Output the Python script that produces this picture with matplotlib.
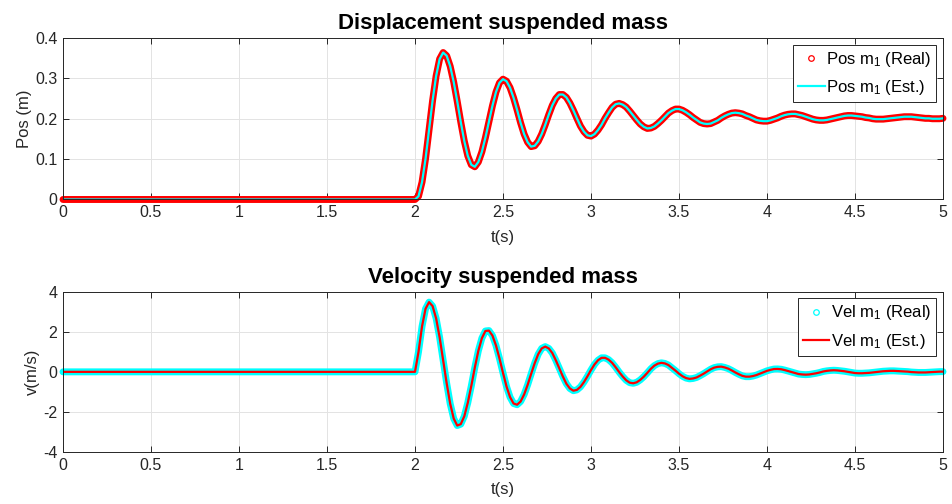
import numpy as np
import matplotlib
matplotlib.use("Agg")
import matplotlib.pyplot as plt
from matplotlib.lines import Line2D

plt.rcParams['font.family'] = ['Liberation Sans', 'DejaVu Sans']
plt.rcParams['mathtext.fontset'] = 'custom'
plt.rcParams['mathtext.rm'] = 'Liberation Sans'
plt.rcParams['mathtext.it'] = 'Liberation Sans:italic'
plt.rcParams['axes.unicode_minus'] = False

# time grid (s), 0.02 s step; the mass is at rest until ~2 s
t = np.round(np.arange(0, 5.0001, 0.02), 2)
n_rest = 100

# displacement of suspended mass (m), read from 2.00 s to 5.00 s
pos_step = [
    0.000, 0.008, 0.043, 0.101, 0.172, 0.245, 0.306, 0.348, 0.364, 0.356,
    0.330, 0.291, 0.243, 0.192, 0.145, 0.108, 0.086, 0.081, 0.093, 0.118,
    0.153, 0.193, 0.232, 0.266, 0.289, 0.298, 0.293, 0.277, 0.252, 0.222,
    0.190, 0.162, 0.142, 0.131, 0.133, 0.144, 0.162, 0.185, 0.210, 0.233,
    0.250, 0.260, 0.260, 0.253, 0.239, 0.221, 0.201, 0.182, 0.168, 0.159,
    0.157, 0.162, 0.172, 0.185, 0.201, 0.215, 0.228, 0.236, 0.238, 0.235,
    0.229, 0.219, 0.208, 0.197, 0.187, 0.180, 0.176, 0.177, 0.181, 0.188,
    0.196, 0.205, 0.214, 0.220, 0.224, 0.224, 0.221, 0.216, 0.210, 0.203,
    0.197, 0.191, 0.188, 0.187, 0.188, 0.192, 0.196, 0.202, 0.207, 0.211,
    0.214, 0.215, 0.214, 0.212, 0.208, 0.205, 0.201, 0.197, 0.195, 0.194,
    0.194, 0.196, 0.199, 0.202, 0.206, 0.209, 0.211, 0.212, 0.212, 0.210,
    0.208, 0.205, 0.202, 0.199, 0.197, 0.196, 0.196, 0.197, 0.199, 0.201,
    0.203, 0.205, 0.207, 0.208, 0.208, 0.207, 0.206, 0.205, 0.203, 0.202,
    0.200, 0.199, 0.199, 0.199, 0.200, 0.201, 0.202, 0.203, 0.204, 0.205,
    0.205, 0.205, 0.204, 0.203, 0.202, 0.201, 0.201, 0.200, 0.200, 0.200,
    0.201,
]

# velocity of suspended mass (m/s), read from 2.00 s to 5.00 s
vel_step = [
    0.00, 1.00, 2.27, 3.15, 3.48, 3.28, 2.67, 1.72, 0.59, -0.57,
    -1.59, -2.33, -2.68, -2.61, -2.22, -1.54, -0.70, 0.22, 1.05, 1.68,
    2.04, 2.06, 1.81, 1.32, 0.67, -0.05, -0.73, -1.26, -1.58, -1.64,
    -1.48, -1.13, -0.65, -0.10, 0.43, 0.88, 1.17, 1.26, 1.17, 0.94,
    0.58, 0.18, -0.23, -0.59, -0.83, -0.94, -0.90, -0.75, -0.51, -0.22,
    0.09, 0.37, 0.58, 0.70, 0.70, 0.61, 0.45, 0.23, -0.01, -0.23,
    -0.42, -0.54, -0.57, -0.52, -0.40, -0.24, -0.05, 0.15, 0.31, 0.41,
    0.45, 0.42, 0.34, 0.20, 0.06, -0.09, -0.22, -0.31, -0.35, -0.33,
    -0.28, -0.19, -0.09, 0.02, 0.13, 0.21, 0.25, 0.26, 0.22, 0.16,
    0.07, -0.03, -0.12, -0.20, -0.24, -0.24, -0.21, -0.16, -0.09, -0.02,
    0.05, 0.10, 0.14, 0.145, 0.13, 0.09, 0.04, -0.01, -0.06, -0.11,
    -0.13, -0.14, -0.13, -0.10, -0.07, -0.03, 0.02, 0.05, 0.07, 0.08,
    0.07, 0.05, 0.03, 0.00, -0.03, -0.06, -0.07, -0.07, -0.06, -0.05,
    -0.03, -0.01, 0.01, 0.03, 0.04, 0.05, 0.05, 0.04, 0.03, 0.02,
    0.01, -0.01, -0.02, -0.03, -0.03, -0.03, -0.02, -0.01, 0.00, 0.01,
    0.01,
]

pos_real = np.r_[np.zeros(n_rest), pos_step]
pos_est = pos_real.copy()      # estimate lies on top of the real curve
vel_real = np.r_[np.zeros(n_rest), vel_step]
vel_est = vel_real.copy()

dark = '#262626'


def style(ax, ylim, yticks):
    ax.set_xlim(0, 5)
    ax.set_ylim(*ylim)
    ax.set_xticks(np.arange(0, 5.01, 0.5))
    ax.set_xticklabels(['0', '0.5', '1', '1.5', '2', '2.5', '3', '3.5', '4', '4.5', '5'])
    ax.set_yticks(yticks)
    ax.grid(True, color='#e3e3e3', lw=0.7)
    ax.set_axisbelow(True)
    ax.tick_params(direction='in', top=True, right=True, length=4.5, width=0.7,
                   color=dark, labelcolor=dark, labelsize=11.5, pad=4)
    for s in ax.spines.values():
        s.set_color(dark)
        s.set_linewidth(0.7)
    ax.set_xlabel('t(s)', fontsize=12, color=dark, labelpad=7)


def legend(ax, real_color, est_color, name):
    handles = [
        Line2D([], [], ls='none', marker='o', mfc='none', mec=real_color, ms=4, mew=0.9),
        Line2D([], [], color=est_color, lw=1.6),
    ]
    labels = [name + ' m$_1$ (Real)', name + ' m$_1$ (Est.)']
    leg = ax.legend(handles, labels, loc='upper right', fontsize=12, frameon=True,
                    fancybox=False, framealpha=1, edgecolor=dark, borderaxespad=0.4,
                    handlelength=1.6, handletextpad=0.1, labelspacing=0.55,
                    borderpad=0.3)
    leg.get_frame().set_linewidth(0.7)


fig = plt.figure(figsize=(9.53, 5.04), dpi=100)
ax1 = fig.add_axes([0.0661, 0.6042, 0.9234, 0.3204])
ax2 = fig.add_axes([0.0661, 0.1032, 0.9234, 0.3180])

# displacement: real samples drawn as a dense red band, estimate in cyan
ax1.plot(t, pos_real, color='red', lw=5, solid_capstyle='round', clip_on=False)
ax1.plot(t, pos_est, color='cyan', lw=1.6)
style(ax1, (0, 0.4), [0, 0.1, 0.2, 0.3, 0.4])
ax1.set_yticklabels(['0', '0.1', '0.2', '0.3', '0.4'])
ax1.set_ylabel('Pos (m)', fontsize=12, color=dark, labelpad=2)
ax1.set_title('Displacement suspended mass', fontsize=16, fontweight='bold', pad=6.5)
legend(ax1, 'red', 'cyan', 'Pos')

# velocity: real samples as a cyan band, estimate in red
ax2.plot(t, vel_real, color='cyan', lw=5, solid_capstyle='round', clip_on=False)
ax2.plot(t, vel_est, color='red', lw=1.6)
style(ax2, (-4, 4), [-4, -2, 0, 2, 4])
ax2.set_ylabel('v(m/s)', fontsize=12, color=dark, labelpad=2)
ax2.set_title('Velocity suspended mass', fontsize=16, fontweight='bold', pad=6.5)
legend(ax2, 'cyan', 'red', 'Vel')

fig.savefig('out.png', dpi=100)
